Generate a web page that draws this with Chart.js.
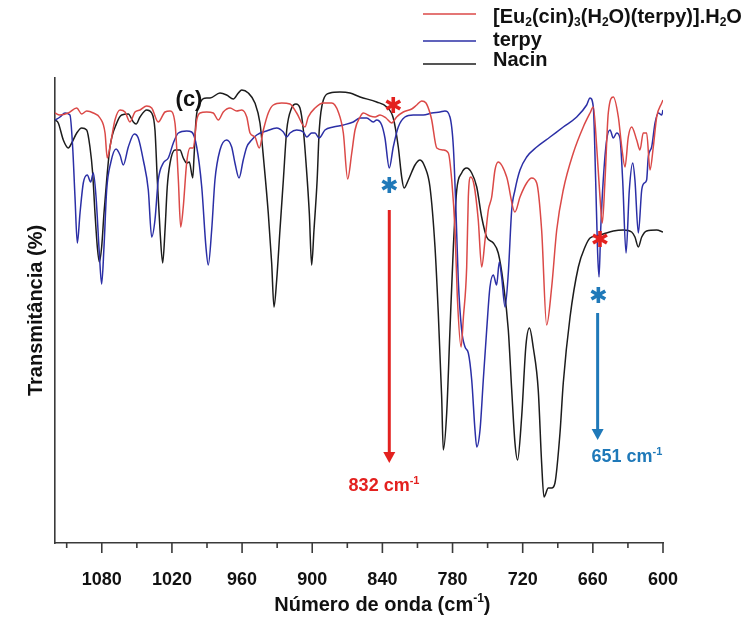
<!DOCTYPE html>
<html lang="pt">
<head>
<meta charset="utf-8">
<title>Espectro de infravermelho (c)</title>
<script src="https://cdn.jsdelivr.net/npm/chart.js@4.4.1/dist/chart.umd.min.js"></script>
<style>
  html, body { margin: 0; padding: 0; background: #fff; }
  #quadro { width: 747px; height: 620px; }
</style>
</head>
<body>
<div id="quadro"><canvas id="graficoIV" width="747" height="620"></canvas></div>
<script>
// 1. Eixos: número de onda (cm-1) invertido e transmitância relativa
const limitesOnda = [600, 1120];
const faixaTransmitancia = [0, 465];
const ticksPrincipais = [1080, 1020, 960, 900, 840, 780, 720, 660, 600];
const ticksMenores = [1110, 1050, 990, 930, 870, 810, 750, 690, 630];

// 2. Espectros
const ondaComplexo = [1120, 1116, 1108.6, 1101.4, 1097.2, 1092.9, 1087.2, 1081.5, 1077.2, 1075.3, 1073, 1068.7, 1064.4, 1060.1, 1055.9, 1051.6, 1047.3, 1041.6, 1037.3, 1031.7,
  1025.9, 1021.6, 1017.4, 1014.5, 1012.5, 1010.3, 1007.4, 1004.5, 1001.7, 998.8, 996, 990.3, 984.6, 980.3, 976.1, 970.3, 964.6, 960.3, 956, 953.2,
  949, 945.3, 941.8, 937.6, 933.3, 926.1, 919, 913.3, 906.2, 903.4, 897.6, 890.5, 883.4, 877.7, 873.4, 869.7, 866.2, 863.4, 859.1, 856.3,
  850.6, 846.3, 842, 836.9, 832, 827.8, 822.1, 814.9, 810.6, 806.4, 802.7, 799.3, 797.8, 793.5, 787.9, 783.6, 780.7, 777.9, 775.9, 772.7,
  770.7, 767.9, 766.5, 764.5, 761.6, 758, 755.1, 752.2, 749.4, 746.5, 743.7, 740.9, 733.7, 726.6, 722.3, 716.6, 712.3, 708, 703.8, 699.5,
  695.2, 690.9, 685.3, 676.7, 668.2, 662.4, 659.6, 656.7, 653.9, 651.9, 649.6, 646.8, 642.5, 638.2, 635.3, 632.5, 629.7, 626.8, 622.5, 619.7,
  616.9, 614, 611.1, 608.3, 605.4, 601.1, 600];
const transComplexo = [430, 428, 430, 435, 429, 432, 430, 425, 410, 385, 396, 423, 433, 431, 421, 431, 433, 437, 435, 421,
  431, 432, 420, 363, 316, 336, 380, 395, 395, 423, 430, 431, 430, 423, 431, 435, 432, 433, 426, 410,
  406, 395, 413, 430, 438, 440, 439, 430, 416, 426, 435, 440, 440, 431, 410, 364, 390, 413, 426, 430,
  427, 426, 428, 425, 420, 426, 431, 434, 438, 442, 440, 430, 423, 395, 393, 390, 363, 313, 246, 196,
  226, 276, 346, 366, 358, 323, 276, 303, 333, 346, 373, 381, 366, 331, 346, 360, 365, 360, 313, 218,
  256, 313, 353, 390, 416, 430, 436, 396, 346, 320, 363, 430, 446, 426, 396, 376, 406, 416, 403, 393,
  410, 410, 373, 396, 426, 440, 443];

const ondaTerpy = [1120, 1115.7, 1111.4, 1107.2, 1104.9, 1102.9, 1100.9, 1098.6, 1095.8, 1092.4, 1089.5, 1087.2, 1084.9, 1082.1, 1080.1, 1078.1, 1075.8, 1072.4, 1067.8, 1064.4,
  1061.6, 1057.3, 1052.2, 1048.8, 1044.5, 1040.2, 1037.3, 1034.5, 1031.7, 1027.4, 1023.1, 1018.8, 1014.5, 1007.4, 1003.1, 998.8, 994.5, 990.9, 988.9, 986,
  983.2, 978.9, 973.2, 968.9, 966.1, 962.6, 959, 956, 951.8, 947.5, 939, 930.4, 924.7, 921.8, 919, 913.3, 907.6, 904.7, 900.5, 897.6,
  894.2, 889.1, 882, 873.4, 864.9, 859.1, 853.4, 847.8, 844.9, 840.6, 837.8, 834.1, 830.7, 826.4, 820.7, 813.6, 805, 797.8, 790.7, 786.5,
  782.2, 779.3, 777, 775.1, 772.2, 769.3, 766.5, 763.6, 760.8, 759.3, 756.5, 753.7, 750.8, 748, 745.1, 742.3, 740, 738, 735.1, 732.3,
  729.4, 726.6, 722.3, 716.6, 708, 696.6, 685.3, 673.8, 665.3, 662.4, 659.6, 657.6, 655.9, 654.7, 653.3, 651.1, 648.2, 645.3, 642.5, 639.6,
  636.8, 634.5, 631.6, 628.8, 625.9, 624, 621.1, 618.2, 616, 614, 612.6, 609.7, 606.8, 604, 601.1, 600];
const transTerpy = [423, 426, 430, 428, 396, 346, 300, 330, 360, 368, 361, 370, 346, 290, 259, 296, 353, 380, 394, 388,
  378, 396, 409, 405, 383, 353, 306, 323, 363, 380, 385, 400, 410, 412, 411, 396, 356, 296, 278, 313,
  363, 393, 403, 396, 380, 365, 383, 396, 403, 408, 412, 415, 411, 406, 410, 413, 411, 406, 410, 410,
  405, 413, 416, 418, 421, 425, 425, 421, 423, 418, 405, 375, 396, 416, 426, 428, 428, 430, 431, 432,
  426, 396, 330, 263, 213, 196, 190, 163, 113, 96, 113, 163, 213, 256, 268, 258, 281, 266, 236, 270,
  333, 353, 373, 386, 396, 406, 416, 426, 438, 445, 436, 363, 290, 266, 313, 363, 403, 413, 405, 410,
  405, 363, 290, 353, 380, 363, 310, 353, 360, 363, 386, 396, 420, 430, 428, 433];

const ondaNacin = [1120, 1117.2, 1112.9, 1108.6, 1105.7, 1101.4, 1097.2, 1092.9, 1090.1, 1087.8, 1085.8, 1083.8, 1082.1, 1080.1, 1078.1, 1075.8, 1073, 1067.2, 1063, 1057.3,
  1053, 1050.7, 1047.3, 1041.6, 1037.3, 1034.5, 1032.5, 1030.2, 1027.9, 1025.9, 1024, 1021.6, 1017.4, 1013.1, 1010.3, 1007.4, 1005.1, 1002.2, 1001.1, 999.4,
  996, 990.3, 987.4, 978.9, 973.2, 967.5, 963.2, 960.3, 954.7, 949, 944.7, 941.3, 937.6, 934.7, 932.7, 930.4, 927.6, 924.7, 921.8, 917.6,
  913.9, 910.5, 907.6, 905.3, 902.5, 900.5, 898.5, 895.8, 894, 890.5, 884.8, 876.3, 867.7, 859.1, 844.9, 836.3, 830.7, 826.4, 823.5, 821.5,
  817.8, 812.1, 807.8, 803.6, 799.3, 795, 792.2, 789.3, 787.9, 785, 782.2, 779.3, 776.4, 772.2, 767.9, 763.6, 759.3, 755.1, 750.8, 745.1,
  740.9, 736.6, 732.3, 729.4, 726.6, 724.4, 720.9, 717.2, 714.2, 710.9, 706.7, 703.8, 701.8, 698.1, 695.2, 692.4, 688.1, 685.3, 679.5, 672.4,
  666.7, 662.4, 656.7, 651.1, 642.5, 634, 626.8, 624, 621.1, 618.2, 614, 605.4, 600];
const transNacin = [423, 420, 403, 395, 400, 410, 415, 413, 396, 370, 330, 296, 281, 296, 330, 363, 396, 420, 428, 429,
  421, 419, 426, 433, 430, 413, 363, 313, 280, 313, 356, 380, 393, 393, 385, 380, 381, 365, 386, 423,
  440, 445, 445, 450, 448, 444, 450, 453, 450, 440, 420, 380, 330, 280, 236, 263, 313, 363, 413, 435,
  439, 435, 413, 380, 330, 278, 313, 363, 413, 443, 450, 451, 450, 446, 441, 436, 425, 396, 366, 355,
  363, 378, 383, 376, 356, 296, 230, 146, 93, 130, 213, 296, 353, 370, 375, 370, 356, 326, 306, 300,
  290, 260, 213, 153, 100, 83, 126, 198, 215, 195, 153, 80, 46, 55, 55, 60, 110, 160, 226, 276,
  296, 305, 307, 309, 312, 313, 311, 306, 296, 306, 312, 313, 311];

// 3. Anotações (asteriscos, setas e rótulos) em coordenadas de dados
const vermelhoMarca = '#e3211f';
const azulMarca = '#1f79b9';
const asteriscos = [
  { onda: 830.7, valor: 438, cor: vermelhoMarca },
  { onda: 834.1, valor: 358, cor: azulMarca },
  { onda: 655.3, valor: 248, cor: azulMarca },
  { onda: 653.9, valor: 304, cor: vermelhoMarca }
];
const setas = [
  { onda: 834.1, de: 333, ate: 80, cor: vermelhoMarca },
  { onda: 655.9, de: 230, ate: 103, cor: azulMarca }
];
const rotulosBanda = [
  { texto: '832 cm^-1', onda: 838.6, valor: 57, cor: vermelhoMarca },
  { texto: '651 cm^-1', onda: 630.8, valor: 86, cor: azulMarca }
];

const FONTE = '"Liberation Sans", Arial, Helvetica, sans-serif';

function juntaPontos(ondas, valores) {
  return ondas.map((o, i) => ({ x: o, y: valores[i] }));
}

// texto com subscrito (_2) e sobrescrito (^-1)
function partesDe(texto) {
  return texto.split(/(_\d+|\^-?\d+)/).filter(Boolean).map(p =>
    p[0] === '_' ? [p.slice(1), 1] : p[0] === '^' ? [p.slice(1), 2] : [p, 0]);
}

function larguraRica(ctx, texto, tam) {
  let w = 0;
  partesDe(texto).forEach(([t, modo]) => {
    ctx.font = `bold ${modo ? Math.round(tam * 0.62) : tam}px ${FONTE}`;
    w += ctx.measureText(t).width;
  });
  return w;
}

function desenhaRico(ctx, texto, x0, yMeio, tam, cor) {
  let cx = x0;
  ctx.fillStyle = cor;
  ctx.textAlign = 'left';
  ctx.textBaseline = 'middle';
  partesDe(texto).forEach(([t, modo]) => {
    ctx.font = `bold ${modo ? Math.round(tam * 0.62) : tam}px ${FONTE}`;
    const dy = modo === 1 ? tam * 0.3 : modo === 2 ? -tam * 0.3 : 0;
    ctx.fillText(t, cx, yMeio + dy);
    cx += ctx.measureText(t).width;
  });
}

function asterisco(ctx, cx, cy, r, cor) {
  ctx.save();
  ctx.strokeStyle = cor;
  ctx.lineWidth = 3.6;
  for (let k = 0; k < 3; k++) {
    const a = Math.PI / 2 + k * Math.PI / 3;
    ctx.beginPath();
    ctx.moveTo(cx - r * Math.cos(a), cy - r * Math.sin(a));
    ctx.lineTo(cx + r * Math.cos(a), cy + r * Math.sin(a));
    ctx.stroke();
  }
  ctx.restore();
}

function seta(ctx, px, yIni, yFim, cor) {
  ctx.save();
  ctx.strokeStyle = cor;
  ctx.fillStyle = cor;
  ctx.lineWidth = 3;
  ctx.beginPath();
  ctx.moveTo(px, yIni);
  ctx.lineTo(px, yFim - 8);
  ctx.stroke();
  ctx.beginPath();
  ctx.moveTo(px - 6, yFim - 11);
  ctx.lineTo(px + 6, yFim - 11);
  ctx.lineTo(px, yFim);
  ctx.closePath();
  ctx.fill();
  ctx.restore();
}

// 4. Plugin: marcas do eixo, título do eixo x, legenda e anotações
const pluginDecoracao = {
  id: 'decoracao',
  afterDraw(chart) {
    const { ctx, chartArea, scales } = chart;
    const sx = scales.x;
    const sy = scales.y;
    ctx.save();

    // marcas do eixo x (principais longas, menores curtas)
    ctx.strokeStyle = '#3a3a3a';
    ctx.lineWidth = 1.6;
    sx.ticks.forEach(t => {
      const px = sx.getPixelForValue(t.value);
      const comp = ticksPrincipais.includes(t.value) ? 10 : 5;
      ctx.beginPath();
      ctx.moveTo(px, chartArea.bottom);
      ctx.lineTo(px, chartArea.bottom + comp);
      ctx.stroke();
    });

    // título do eixo x, centrado sob os rótulos
    const tituloX = 'Número de onda (cm^-1)';
    const centroX = (sx.getPixelForValue(ticksPrincipais[0]) + sx.getPixelForValue(ticksPrincipais[ticksPrincipais.length - 1])) / 2;
    const wT = larguraRica(ctx, tituloX, 20);
    desenhaRico(ctx, tituloX, centroX - wT / 2, 605, 20, '#111');

    // letra do painel
    ctx.font = `bold 22px ${FONTE}`;
    ctx.fillStyle = '#111';
    ctx.textAlign = 'center';
    ctx.textBaseline = 'middle';
    ctx.fillText('(c)', 189, 100);

    // legenda
    const leg = chart.options.plugins.decoracao;
    chart.data.datasets.forEach((ds, i) => {
      const yl = leg.yLinha[i];
      ctx.strokeStyle = ds.borderColor;
      ctx.lineWidth = 1.6;
      ctx.beginPath();
      ctx.moveTo(leg.x, yl);
      ctx.lineTo(leg.x + leg.comprimento, yl);
      ctx.stroke();
      desenhaRico(ctx, ds.label, leg.xTexto, leg.yTexto[i], 20, '#111');
    });

    // setas, asteriscos e rótulos das bandas
    setas.forEach(s => seta(ctx, sx.getPixelForValue(s.onda), sy.getPixelForValue(s.de), sy.getPixelForValue(s.ate), s.cor));
    asteriscos.forEach(a => asterisco(ctx, sx.getPixelForValue(a.onda), sy.getPixelForValue(a.valor), 8, a.cor));
    rotulosBanda.forEach(r => {
      const w = larguraRica(ctx, r.texto, 18);
      desenhaRico(ctx, r.texto, sx.getPixelForValue(r.onda) - w / 2, sy.getPixelForValue(r.valor), 18, r.cor);
    });

    ctx.restore();
  }
};

// 5. Construção do gráfico
const series = [
  { label: '[Eu_2(cin)_3(H_2O)(terpy)].H_2O', ondas: ondaComplexo, valores: transComplexo, cor: '#db4947' },
  { label: 'terpy', ondas: ondaTerpy, valores: transTerpy, cor: '#2b2fa6' },
  { label: 'Nacin', ondas: ondaNacin, valores: transNacin, cor: '#1c1c1c' }
];

new Chart(document.getElementById('graficoIV'), {
  type: 'line',
  data: {
    datasets: series.map(s => ({
      label: s.label,
      data: juntaPontos(s.ondas, s.valores),
      borderColor: s.cor,
      borderWidth: 1.5,
      pointRadius: 0,
      fill: false,
      cubicInterpolationMode: 'monotone'
    }))
  },
  options: {
    responsive: false,
    animation: false,
    layout: { padding: { top: 78, right: 84, bottom: 0, left: 0 } },
    plugins: {
      legend: { display: false },
      tooltip: { enabled: false },
      decoracao: { x: 423, comprimento: 53, xTexto: 493, yLinha: [14, 41, 64], yTexto: [17, 40, 60] }
    },
    scales: {
      x: {
        type: 'linear',
        reverse: true,
        min: limitesOnda[0],
        max: limitesOnda[1],
        afterBuildTicks: s => {
          s.ticks = ticksPrincipais.concat(ticksMenores).sort((a, b) => b - a).map(v => ({ value: v }));
        },
        afterFit: s => { s.height = 77; },
        grid: { display: false, drawTicks: false },
        border: { display: true, color: '#3a3a3a', width: 1.6 },
        ticks: {
          autoSkip: false,
          maxRotation: 0,
          minRotation: 0,
          padding: 26,
          color: '#111',
          font: { family: FONTE, size: 18, weight: 'bold' },
          callback: v => ticksPrincipais.includes(v) ? String(v) : ''
        }
      },
      y: {
        min: faixaTransmitancia[0],
        max: faixaTransmitancia[1],
        afterFit: s => { s.width = 55; },
        grid: { display: false, drawTicks: false },
        border: { display: true, color: '#3a3a3a', width: 1.6 },
        ticks: { display: false },
        title: {
          display: true,
          text: 'Transmitância (%)',
          color: '#111',
          font: { family: FONTE, size: 20, weight: 'bold' },
          padding: { top: 24, bottom: 0 }
        }
      }
    }
  },
  plugins: [pluginDecoracao]
});
</script>
</body>
</html>
